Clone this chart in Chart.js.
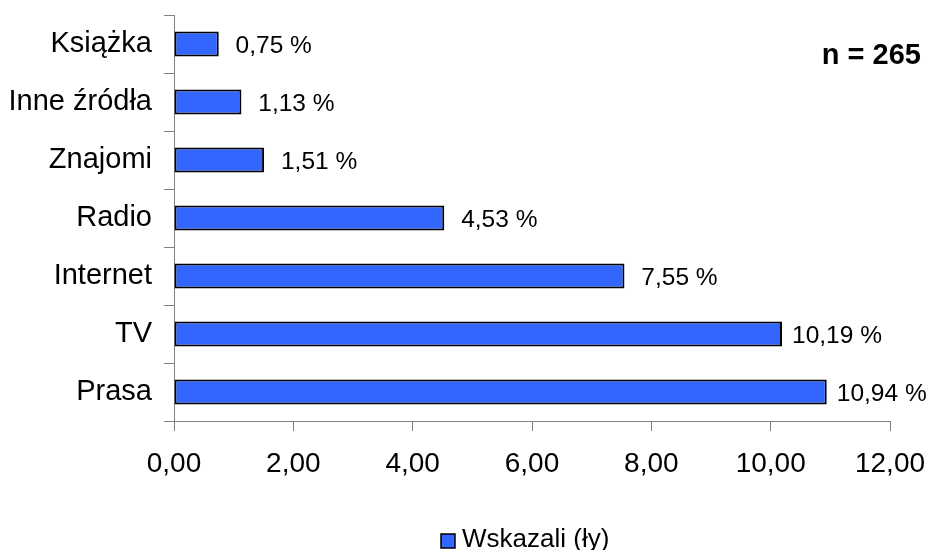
<!DOCTYPE html>
<html>
<head>
<meta charset="utf-8">
<script src="https://cdn.jsdelivr.net/npm/chart.js@4"></script>
<style>
html,body{margin:0;padding:0;background:#fff;}
#wrap{width:930px;height:550px;position:relative;}
</style>
</head>
<body>
<div id="wrap"><canvas id="c" width="930" height="550"></canvas></div>
<script>
const categories = ["Książka", "Inne źródła", "Znajomi", "Radio", "Internet", "TV", "Prasa"];
const values = [0.75, 1.13, 1.51, 4.53, 7.55, 10.19, 10.94];
const seriesName = "Wskazali (ły)";
const xTicks = [0, 2, 4, 6, 8, 10, 12];
const sampleNote = "n = 265";

const FONT = "'Liberation Sans', Arial, sans-serif";
const fmt = (v, d) => v.toFixed(d).replace('.', ',');

const extras = {
  id: 'extras',
  afterDatasetsDraw(chart) {
    const ctx = chart.ctx;
    const meta = chart.getDatasetMeta(0);
    ctx.save();
    ctx.fillStyle = '#000';
    ctx.font = '24.5px ' + FONT;
    ctx.textAlign = 'center';
    ctx.textBaseline = 'alphabetic';
    meta.data.forEach((bar, i) => {
      ctx.fillText(fmt(values[i], 2) + ' %', bar.x + 55, bar.y + 9);
    });
    // n note
    ctx.font = 'bold 29px ' + FONT;
    ctx.textAlign = 'right';
    ctx.fillText(sampleNote, 921, 64);
    // legend
    const ds = chart.data.datasets[0];
    ctx.fillStyle = ds.backgroundColor;
    ctx.fillRect(441, 534, 14, 14);
    ctx.strokeStyle = '#000';
    ctx.lineWidth = 1.5;
    ctx.strokeRect(441, 534, 14, 14);
    ctx.fillStyle = '#000';
    ctx.font = '26px ' + FONT;
    ctx.textAlign = 'left';
    ctx.fillText(ds.label, 462, 547);
    ctx.restore();
  }
};

new Chart(document.getElementById('c'), {
  type: 'bar',
  data: {
    labels: categories,
    datasets: [{
      label: seriesName,
      data: values,
      backgroundColor: '#3366FF',
      borderColor: '#000000',
      borderWidth: 2,
      borderSkipped: false,
      barPercentage: 0.43,
      categoryPercentage: 1.0
    }]
  },
  options: {
    indexAxis: 'y',
    responsive: false,
    animation: false,
    devicePixelRatio: 1,
    layout: { padding: { top: 15, right: 40, left: 0, bottom: 0 } },
    plugins: { legend: { display: false }, tooltip: { enabled: false } },
    scales: {
      x: {
        min: 0, max: 12,
        afterBuildTicks(scale) { scale.ticks = xTicks.map(v => ({ value: v })); },
        afterFit(scale) { scale.height = 129; scale.paddingLeft = 0; scale.paddingRight = 0; },
        border: { color: '#808080', width: 1 },
        grid: { drawOnChartArea: false, drawTicks: true, tickLength: 10, color: '#808080' },
        ticks: {
          padding: 16,
          color: '#000',
          font: { family: FONT, size: 28 },
          callback: (v) => fmt(v, 2)
        }
      },
      y: {
        afterFit(scale) { scale.width = 174; scale.paddingTop = 0; scale.paddingBottom = 0; },
        border: { color: '#808080', width: 1 },
        grid: { drawOnChartArea: false, drawTicks: true, tickLength: 10, color: '#808080', offset: true },
        ticks: {
          padding: 12,
          color: '#000',
          font: { family: FONT, size: 29 }
        }
      }
    }
  },
  plugins: [extras]
});
</script>
</body>
</html>
